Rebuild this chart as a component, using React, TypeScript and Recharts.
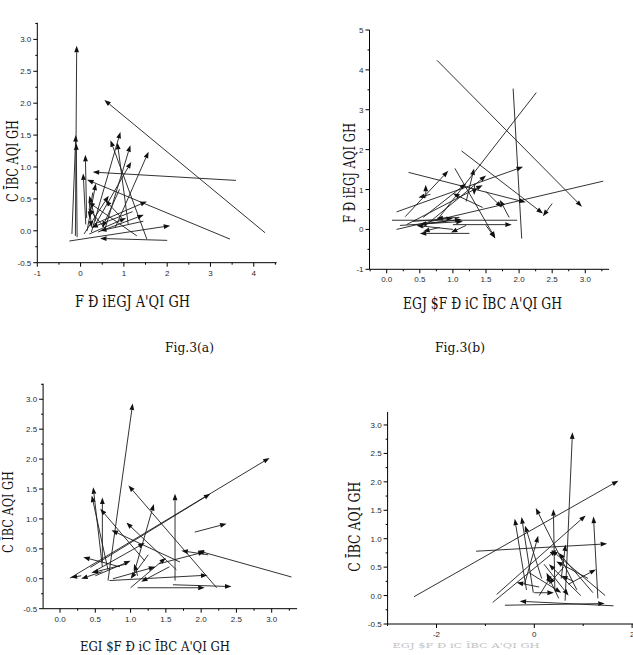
import React from 'react';
import { ScatterChart, XAxis, YAxis, ReferenceLine, Label } from 'recharts';

// Each vector: [x tail, y tail, x head, y head]
type Vec = [number, number, number, number];

const vectorsA: Vec[] = [
  [4.26, -0.03, 0.55, 2.05],
  [-0.12, -0.08, -0.09, 2.9],
  [-0.2, -0.05, -0.11, 1.5],
  [-0.08, -0.1, -0.1, 1.37],
  [3.59, 0.79, 0.28, 0.92],
  [3.45, -0.13, 0.15, 0.8],
  [2.0, -0.15, 0.45, -0.12],
  [-0.26, -0.16, 2.07, 0.08],
  [0.25, -0.02, 0.92, 1.55],
  [1.53, -0.13, 0.69, 1.42],
  [0.55, 0.0, 1.15, 1.34],
  [0.8, 0.05, 1.57, 1.24],
  [0.3, 0.05, 1.17, 1.08],
  [0.14, 0.2, 0.11, 1.19],
  [0.12, 0.1, 0.06, 0.9],
  [0.95, 0.2, 0.57, 0.48],
  [0.3, 0.1, 1.53, 0.46],
  [0.4, -0.02, 1.46, 0.25],
  [0.15, 0.0, 0.35, 0.74],
  [1.3, -0.08, 0.18, 0.45],
  [0.55, 0.05, 0.18, 0.35],
  [0.2, -0.05, 1.05, 0.2],
  [1.45, 0.15, 0.45, 0.0],
  [0.28, 0.6, 0.2, 0.2],
  [0.08, -0.05, 0.65, 0.55],
  [1.2, 0.3, 0.25, 0.05],
  [0.9, 0.65, 0.5, 0.05],
  [0.2, 0.45, 0.25, 0.05],
  [1.1, 0.1, 0.85, 1.38],
  [0.35, 0.15, 0.2, 0.55],
];

const vectorsB: Vec[] = [
  [0.76, 4.24, 2.95, 0.57],
  [1.13, 1.97, 2.36, 0.4],
  [0.33, 1.43, 2.1, 0.68],
  [0.15, 0.44, 2.06, 1.57],
  [0.28, 0.32, 0.93, 1.47],
  [1.03, 1.53, 1.64, -0.22],
  [1.0, 0.12, 1.89, 0.12],
  [0.59, 0.8, 0.59, 1.12],
  [0.66, 0.88, 0.48, 0.8],
  [1.2, 0.7, 1.32, 1.53],
  [1.33, 1.15, 1.32, 0.86],
  [1.85, 0.3, 1.71, 0.74],
  [1.5, 0.95, 1.74, 0.55],
  [1.5, 0.1, 1.64, -0.22],
  [1.25, -0.1, 0.5, -0.1],
  [1.0, 0.0, 0.45, 0.1],
  [1.2, 0.1, 0.97, -0.08],
  [0.9, 0.2, 0.5, 0.13],
  [1.1, 0.3, 0.75, 0.28],
  [0.4, 0.2, 1.0, 0.28],
  [0.2, 0.1, 1.15, 0.2],
  [0.6, 0.15, 1.13, 0.25],
  [0.55, 0.3, 1.2, 1.15],
  [0.3, 0.12, 1.45, 1.11],
  [1.45, 0.55, 1.0, 0.9],
  [2.5, 0.65, 2.36, 0.33],
  [0.55, 0.05, 1.5, 1.35],
  [0.8, 0.05, 0.55, -0.05],
];

// Plain segments (no arrowhead drawn) in panel (b)
const linesB: Vec[] = [
  [1.91, 3.53, 2.04, -0.23],
  [0.76, 0.23, 2.26, 3.43],
  [0.15, 0.0, 3.27, 1.21],
  [0.08, 0.23, 1.97, 0.23],
];

const vectorsC: Vec[] = [
  [0.14, 0.01, 2.97, 2.02],
  [0.68, -0.03, 1.03, 2.93],
  [3.28, 0.03, 1.95, 0.47],
  [1.7, 0.28, 0.73, 0.81],
  [0.43, 0.19, 2.13, 1.42],
  [2.22, -0.15, 0.97, 1.56],
  [1.63, -0.03, 1.63, 1.42],
  [1.91, 0.78, 2.36, 0.92],
  [0.6, 0.2, 0.47, 1.53],
  [0.68, 0.15, 0.45, 1.39],
  [0.6, 0.28, 0.6, 1.36],
  [1.2, 0.3, 0.57, 1.17],
  [1.05, 0.1, 1.33, 1.25],
  [1.65, 0.15, 0.94, 0.94],
  [1.6, -0.1, 2.43, -0.13],
  [1.1, -0.15, 2.05, -0.15],
  [0.7, -0.03, 2.09, 0.06],
  [0.85, 0.2, 0.33, 0.36],
  [2.1, 0.4, 1.72, 0.47],
  [1.4, 0.25, 2.05, 0.45],
  [0.3, 0.05, 0.15, 0.02],
  [0.6, 0.12, 0.3, 0.0],
  [0.95, 0.25, 0.45, 0.1],
  [0.5, 0.05, 1.0, 0.3],
  [1.1, 0.05, 1.05, 0.25],
  [1.25, 0.4, 1.0, 0.0],
  [1.0, -0.15, 1.5, 0.35],
  [0.75, 0.0, 1.35, 0.2],
  [1.55, 0.2, 1.15, -0.05],
  [0.45, 0.1, 1.2, 0.6],
];

const vectorsD: Vec[] = [
  [-2.46, -0.02, 1.72, 2.02],
  [-1.19, 0.78, 1.49, 0.91],
  [0.63, -0.09, 0.78, 2.87],
  [-0.6, -0.17, 1.44, -0.14],
  [1.62, -0.18, -0.3, -0.1],
  [0.87, 0.1, 0.03, 1.54],
  [0.42, 0.1, 0.39, 1.52],
  [-0.77, 0.02, 1.05, 1.41],
  [1.3, -0.05, 1.21, 1.39],
  [-0.16, 0.1, -0.4, 1.35],
  [-0.02, 0.05, -0.26, 1.38],
  [0.15, 0.3, -0.19, 1.23],
  [-0.2, 0.2, 0.08, 1.05],
  [0.7, 0.2, 1.26, 0.46],
  [0.1, 0.15, -0.36, 0.23],
  [0.55, 0.3, 0.64, 0.9],
  [-0.85, -0.12, 0.45, 0.8],
  [1.45, 0.0, 0.35, 0.8],
  [1.2, 0.05, 0.5, 0.75],
  [0.1, 0.0, 0.35, 0.35],
  [0.6, 0.5, 0.3, 0.2],
  [0.5, -0.05, 0.25, 0.4],
  [0.8, 0.25, 0.55, 0.35],
  [0.0, 0.05, 0.4, 0.05],
  [0.95, 0.0, 0.3, 0.55],
  [-0.1, 0.4, 0.55, 0.05],
  [0.2, 0.55, 0.7, 0.0],
  [1.1, 0.3, 0.45, 0.6],
];

// Tick positions (minor + major) and the majors that carry labels
const ticksQuarterY = [-0.5, -0.25, 0, 0.25, 0.5, 0.75, 1, 1.25, 1.5, 1.75, 2, 2.25, 2.5, 2.75, 3, 3.25];
const majorsHalfY = [-0.5, 0, 0.5, 1, 1.5, 2, 2.5, 3];
const ticksAX = [-1, -0.5, 0, 0.5, 1, 1.5, 2, 2.5, 3, 3.5, 4, 4.5];
const majorsAX = [-1, 0, 1, 2, 3, 4];
const ticksBX = [-0.25, 0, 0.25, 0.5, 0.75, 1, 1.25, 1.5, 1.75, 2, 2.25, 2.5, 2.75, 3, 3.25];
const ticksCX = [0, 0.25, 0.5, 0.75, 1, 1.25, 1.5, 1.75, 2, 2.25, 2.5, 2.75, 3, 3.25];
const majorsHalfX = [0, 0.5, 1, 1.5, 2, 2.5, 3];
const ticksBY = [-1, -0.5, 0, 0.5, 1, 1.5, 2, 2.5, 3, 3.5, 4, 4.5, 5];
const majorsBY = [-1, 0, 1, 2, 3, 4, 5];
const ticksDX = [-3, -2, -1, 0, 1, 2];
const majorsDX = [-2, 0, 2];
const ticksDY = [-0.5, -0.25, 0, 0.25, 0.5, 0.75, 1, 1.25, 1.5, 1.75, 2, 2.25, 2.5, 2.75, 3];

const fmt1 = (v: number) => v.toFixed(1);
const fmt0 = (v: number) => String(v);

const TICK_FONT = '"Liberation Sans", Arial, sans-serif';
const TITLE_FONT = '"DejaVu Serif", "Liberation Serif", serif';

function VectorShape(props: any) {
  const { x1, y1, x2, y2 } = props;
  if (![x1, y1, x2, y2].every((n) => Number.isFinite(n))) return null;
  const dx = x2 - x1;
  const dy = y2 - y1;
  const len = Math.hypot(dx, dy) || 1;
  const ux = dx / len;
  const uy = dy / len;
  const hl = 6.5;
  const hw = 2.4;
  const bx = x2 - ux * hl;
  const by = y2 - uy * hl;
  const pts = `${x2},${y2} ${bx - uy * hw},${by + ux * hw} ${bx + uy * hw},${by - ux * hw}`;
  return (
    <g>
      <line x1={x1} y1={y1} x2={bx} y2={by} stroke="#1c1c1c" strokeWidth={0.9} />
      <polygon points={pts} fill="#111" />
    </g>
  );
}

function PlainShape(props: any) {
  const { x1, y1, x2, y2 } = props;
  if (![x1, y1, x2, y2].every((n) => Number.isFinite(n))) return null;
  return <line x1={x1} y1={y1} x2={x2} y2={y2} stroke="#1c1c1c" strokeWidth={0.9} />;
}

function makeTick(side: 'bottom' | 'left', majors: number[], fmt: (v: number) => string) {
  return (props: any) => {
    const { x, y, payload } = props;
    const v = Number(payload.value);
    const major = majors.some((m) => Math.abs(m - v) < 1e-6);
    const len = major ? 4 : 2;
    if (side === 'bottom') {
      return (
        <g>
          <line x1={x} y1={y} x2={x} y2={y + len} stroke="#000" strokeWidth={1} />
          {major && (
            <text x={x} y={y + 13} textAnchor="middle" fontSize={8} fontFamily={TICK_FONT} fill="#2a2a2a">
              {fmt(v)}
            </text>
          )}
        </g>
      );
    }
    return (
      <g>
        <line x1={x} y1={y} x2={x - len} y2={y} stroke="#000" strokeWidth={1} />
        {major && (
          <text x={x - 6} y={y + 3} textAnchor="end" fontSize={8} fontFamily={TICK_FONT} fill="#2a2a2a">
            {fmt(v)}
          </text>
        )}
      </g>
    );
  };
}

type Title = {
  text: string;
  x: number;
  y: number;
  len: number;
  size: number;
  rotate?: boolean;
  color?: string;
};

type Box = { left: number; top: number; width: number; height: number };
type Plot = { left: number; top: number; right: number; bottom: number };

type PanelProps = {
  box: Box;
  plot: Plot;
  xDomain: [number, number];
  yDomain: [number, number];
  xTicks: number[];
  xMajors: number[];
  yTicks: number[];
  yMajors: number[];
  xFmt: (v: number) => string;
  yFmt: (v: number) => string;
  vectors: Vec[];
  lines?: Vec[];
  titles: Title[];
};

function Panel({ box, plot, xDomain, yDomain, xTicks, xMajors, yTicks, yMajors, xFmt, yFmt, vectors, lines = [], titles }: PanelProps) {
  const margin = { top: plot.top - box.top, right: box.left + box.width - plot.right, bottom: 0, left: 0 };
  const yAxisWidth = plot.left - box.left;
  const xAxisHeight = box.top + box.height - plot.bottom;
  const titleContent = () => (
    <g>
      {titles.map((t, i) => {
        const lx = t.x - box.left;
        const ly = t.y - box.top;
        return (
          <text
            key={i}
            x={lx}
            y={ly}
            textAnchor="middle"
            transform={t.rotate ? `rotate(-90 ${lx} ${ly})` : undefined}
            fontSize={t.size}
            fontFamily={TITLE_FONT}
            fill={t.color || '#111'}
            textLength={t.len}
            lengthAdjust="spacingAndGlyphs"
          >
            {t.text}
          </text>
        );
      })}
    </g>
  );
  return (
    <div style={{ position: 'absolute', left: box.left, top: box.top }}>
      <ScatterChart width={box.width} height={box.height} margin={margin}>
        <XAxis
          type="number"
          dataKey="x"
          domain={xDomain}
          allowDataOverflow
          ticks={xTicks}
          interval={0}
          tickSize={0}
          tickMargin={0}
          tickLine={false}
          axisLine={{ stroke: '#000', strokeWidth: 1 }}
          height={xAxisHeight}
          tick={makeTick('bottom', xMajors, xFmt)}
        >
          <Label content={titleContent} />
        </XAxis>
        <YAxis
          type="number"
          dataKey="y"
          domain={yDomain}
          allowDataOverflow
          ticks={yTicks}
          interval={0}
          tickSize={0}
          tickMargin={0}
          tickLine={false}
          axisLine={{ stroke: '#000', strokeWidth: 1 }}
          width={yAxisWidth}
          tick={makeTick('left', yMajors, yFmt)}
        />
        {lines.map((v, i) => (
          <ReferenceLine
            key={`l${i}`}
            segment={[
              { x: v[0], y: v[1] },
              { x: v[2], y: v[3] },
            ]}
            ifOverflow="visible"
            shape={PlainShape}
          />
        ))}
        {vectors.map((v, i) => (
          <ReferenceLine
            key={`v${i}`}
            segment={[
              { x: v[0], y: v[1] },
              { x: v[2], y: v[3] },
            ]}
            ifOverflow="visible"
            shape={VectorShape}
          />
        ))}
      </ScatterChart>
    </div>
  );
}

export default function App() {
  return (
    <div
      style={{
        position: 'absolute',
        left: 0,
        top: 0,
        width: 633,
        height: 655,
        overflow: 'hidden',
        background: '#fff',
      }}
    >
      <Panel
        box={{ left: 0, top: 0, width: 310, height: 362 }}
        plot={{ left: 37.3, top: 22.8, right: 276.7, bottom: 262.7 }}
        xDomain={[-1, 4.53]}
        yDomain={[-0.5, 3.26]}
        xTicks={ticksAX}
        xMajors={majorsAX}
        yTicks={ticksQuarterY}
        yMajors={majorsHalfY}
        xFmt={fmt0}
        yFmt={fmt1}
        vectors={vectorsA}
        titles={[
          { text: "F Đ iEGJ  A'QI GH", x: 132.5, y: 307, len: 115, size: 16 },
          { text: 'C ĪBC AQI GH', x: 18, y: 161, len: 82, size: 16, rotate: true },
          { text: 'Fig.3(a)', x: 189.5, y: 352, len: 49, size: 12 },
        ]}
      />
      <Panel
        box={{ left: 320, top: 0, width: 313, height: 362 }}
        plot={{ left: 369.5, top: 30, right: 609.1, bottom: 269.3 }}
        xDomain={[-0.26, 3.36]}
        yDomain={[-1, 5]}
        xTicks={ticksBX}
        xMajors={majorsHalfX}
        yTicks={ticksBY}
        yMajors={majorsBY}
        xFmt={fmt1}
        yFmt={fmt0}
        vectors={vectorsB}
        lines={linesB}
        titles={[
          { text: "EGJ $F Đ iC ĪBC A'QI GH", x: 482.5, y: 309, len: 159, size: 16 },
          { text: 'F Đ iEGJ  AQI GH', x: 355, y: 173, len: 100, size: 16, rotate: true },
          { text: 'Fig.3(b)', x: 460, y: 352, len: 50, size: 12 },
        ]}
      />
      <Panel
        box={{ left: 0, top: 370, width: 320, height: 285 }}
        plot={{ left: 43.1, top: 383.7, right: 297.1, bottom: 608.7 }}
        xDomain={[-0.24, 3.36]}
        yDomain={[-0.5, 3.26]}
        xTicks={ticksCX}
        xMajors={majorsHalfX}
        yTicks={ticksQuarterY}
        yMajors={majorsHalfY}
        xFmt={fmt1}
        yFmt={fmt1}
        vectors={vectorsC}
        titles={[
          { text: "EGI $F Đ iC ĪBC A'QI GH", x: 155, y: 651, len: 150, size: 13 },
          { text: 'C ĪBC AQI GH', x: 13, y: 512, len: 82, size: 15, rotate: true },
        ]}
      />
      <Panel
        box={{ left: 320, top: 400, width: 320, height: 255 }}
        plot={{ left: 387.6, top: 411.9, right: 637, bottom: 624 }}
        xDomain={[-3, 2.1]}
        yDomain={[-0.5, 3.23]}
        xTicks={ticksDX}
        xMajors={majorsDX}
        yTicks={ticksDY}
        yMajors={majorsHalfY}
        xFmt={fmt0}
        yFmt={fmt1}
        vectors={vectorsD}
        titles={[
          { text: 'C ĪBC AQI GH', x: 360.5, y: 526.7, len: 90, size: 16, rotate: true },
          { text: "EGJ $F Đ iC ĪBC A'QI GH", x: 466, y: 648, len: 147, size: 8, color: '#c4c4c4' },
        ]}
      />
    </div>
  );
}
